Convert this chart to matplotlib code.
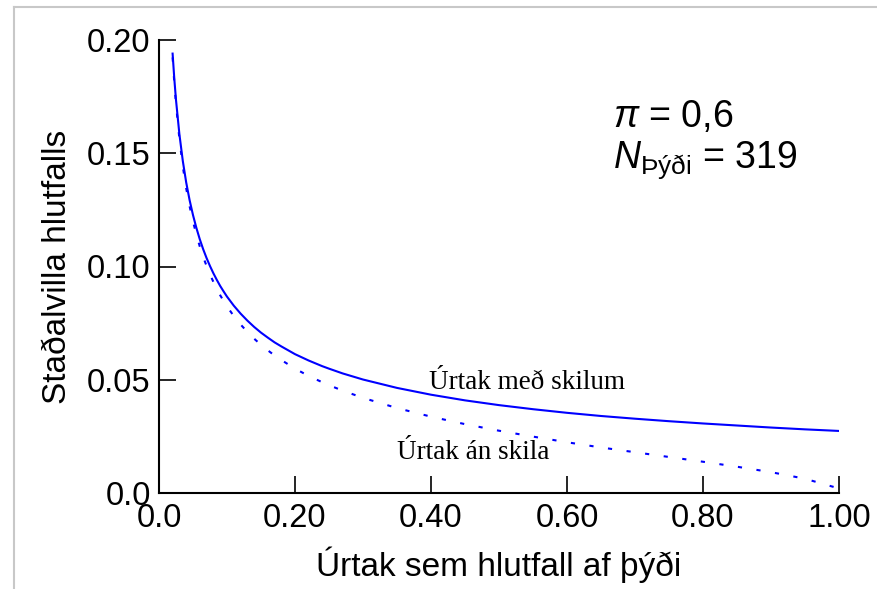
import matplotlib
matplotlib.use("Agg")
import matplotlib.pyplot as plt
from matplotlib.lines import Line2D

# Sample fraction of population and standard error of proportion (pi = 0.6, N = 319)
fraction = [0.02, 0.0225, 0.025, 0.03, 0.035, 0.04, 0.045, 0.05, 0.055, 0.06,
            0.065, 0.07, 0.075, 0.08, 0.085, 0.09, 0.095, 0.10, 0.11, 0.12,
            0.13, 0.14, 0.15, 0.16, 0.17, 0.18, 0.20, 0.22, 0.24, 0.25,
            0.27, 0.30, 0.35, 0.40, 0.45, 0.50, 0.55, 0.60, 0.65, 0.70,
            0.75, 0.80, 0.85, 0.90, 0.95, 1.00]
se_with = [0.1940, 0.1829, 0.1735, 0.1584, 0.1466, 0.1371, 0.1293, 0.1227,
           0.1170, 0.1120, 0.1076, 0.1037, 0.1002, 0.0970, 0.0941, 0.0914,
           0.0890, 0.0867, 0.0827, 0.0792, 0.0761, 0.0733, 0.0708, 0.0686,
           0.0665, 0.0647, 0.0613, 0.0585, 0.0560, 0.0549, 0.0528, 0.0501,
           0.0464, 0.0434, 0.0409, 0.0388, 0.0370, 0.0354, 0.0340, 0.0328,
           0.0317, 0.0307, 0.0298, 0.0289, 0.0281, 0.0274]
se_without = [0.1923, 0.1811, 0.1716, 0.1563, 0.1442, 0.1345, 0.1266, 0.1198,
              0.1141, 0.1088, 0.1042, 0.1002, 0.0965, 0.0932, 0.0902, 0.0873,
              0.0848, 0.0824, 0.0781, 0.0744, 0.0711, 0.0681, 0.0654, 0.0630,
              0.0607, 0.0587, 0.0549, 0.0517, 0.0489, 0.0476, 0.0452, 0.0420,
              0.0375, 0.0337, 0.0304, 0.0275, 0.0249, 0.0224, 0.0201, 0.0180,
              0.0159, 0.0138, 0.0116, 0.0092, 0.0063, 0.0020]

xticks = [0.0, 0.2, 0.4, 0.6, 0.8, 1.0]
xtick_labels = ["0.0", "0.20", "0.40", "0.60", "0.80", "1.00"]
yticks = [0.0, 0.05, 0.10, 0.15, 0.20]
ytick_labels = ["0.0", "0.05", "0.10", "0.15", "0.20"]

plt.rcParams['font.family'] = ['Liberation Sans', 'DejaVu Sans']
plt.rcParams['mathtext.fontset'] = 'custom'
plt.rcParams['mathtext.rm'] = 'Liberation Sans'
plt.rcParams['mathtext.it'] = 'Liberation Sans:italic'

fig = plt.figure(figsize=(8.77, 5.89), dpi=100)
ax = fig.add_axes([159 / 877, 1 - 493 / 589, 680 / 877, 453 / 589])

blue = '#0000ff'
ax.plot(fraction, se_with, color=blue, lw=1.5)
ax.plot(fraction, se_without, color=blue, lw=1.5, linestyle=(0, (2, 7)))

ax.set_xlim(0, 1)
ax.set_ylim(0, 0.2)
ax.set_xticks(xticks, xtick_labels)
ax.set_yticks(yticks, ytick_labels)
ax.tick_params(direction='in', length=12, width=1.2, labelsize=23.5)
ax.tick_params(axis='x', pad=7)
ax.tick_params(axis='y', pad=6)
for side in ['top', 'right']:
    ax.spines[side].set_visible(False)
for side in ['left', 'bottom']:
    ax.spines[side].set_linewidth(1.5)

ax.set_xlabel("Úrtak sem hlutfall af þýði", fontsize=24, labelpad=9)
ax.set_ylabel("Staðalvilla hlutfalls", fontsize=24, labelpad=10)

serif = ['Liberation Serif', 'DejaVu Serif']
ax.text(0.541, 0.0486, "Úrtak með skilum", family=serif, fontsize=19.5,
        ha='center', va='center')
ax.text(0.462, 0.0180, "Úrtak án skila", family=serif, fontsize=19.5,
        ha='center', va='center')

ax.text(0.668, 0.166, r"$\pi$ = 0,6", fontsize=27, ha='left', va='center')
ax.text(0.668, 0.147, r"$N_{\mathrm{Þýði}}$ = 319", fontsize=27,
        ha='left', va='center')

# light grey frame around the picture
border = '#c8c8c8'
fig.add_artist(Line2D([13.5 / 877, 13.5 / 877], [0, 1 - 7 / 589],
                      color=border, lw=1.5, transform=fig.transFigure))
fig.add_artist(Line2D([13.5 / 877, 1], [1 - 7 / 589, 1 - 7 / 589],
                      color=border, lw=1.5, transform=fig.transFigure))

fig.savefig("out.png", dpi=100)
